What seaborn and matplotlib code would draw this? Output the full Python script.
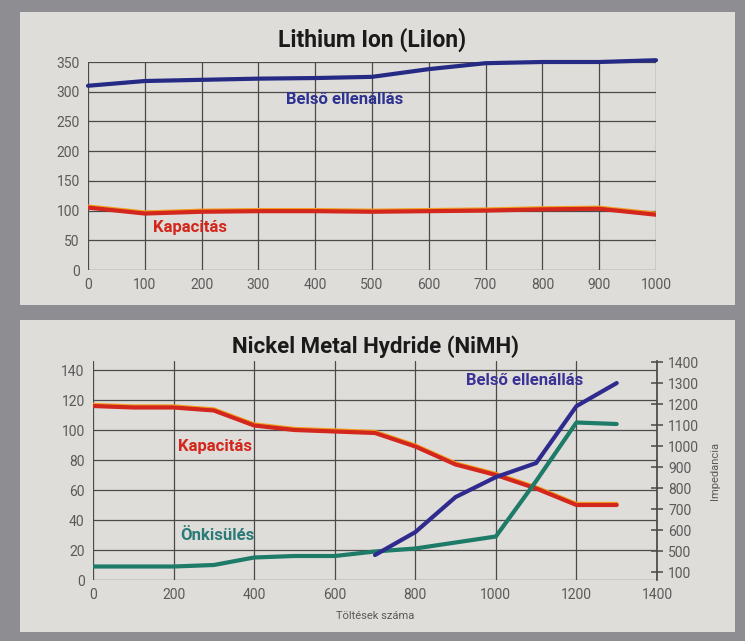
import matplotlib
matplotlib.use('Agg')
import matplotlib.pyplot as plt
import matplotlib.patheffects as pe
from matplotlib.patches import Rectangle
import seaborn as sns
import pandas as pd

# Lithium Ion data
li_x = [0, 100, 200, 300, 400, 500, 600, 700, 800, 900, 1000]
li_ellenallas = [310, 318, 320, 322, 323, 325, 338, 348, 350, 350, 353]
li_kapacitas = [105, 95, 98, 99, 99, 98, 99, 100, 102, 103, 93]

# NiMH data
ni_x = [0, 100, 200, 300, 400, 500, 600, 700, 800, 900, 1000, 1100, 1200, 1300]
ni_kapacitas = [116, 115, 115, 113, 103, 100, 99, 98, 89, 77, 70, 61, 50, 50]
ni_onkisules = [9, 9, 9, 10, 15, 16, 16, 19, 21, 25, 29, 66, 105, 104]
ni_ell_x = [700, 800, 900, 1000, 1100, 1200, 1300]
ni_ellenallas = [481, 590, 757, 852, 919, 1190, 1300]  # impedance, right axis

right_ticks = [400, 500, 600, 700, 800, 900, 1000, 1100, 1200, 1300, 1400]
right_labels = ['100', '500', '600', '700', '800', '900', '1000', '1100', '1200', '1300', '1400']

sns.set_theme(style='whitegrid')
plt.rcParams['font.family'] = ['Roboto', 'DejaVu Sans']

BLUE = '#252a84'
RED = '#d3261c'
ORANGE = '#f0a020'
GREEN = '#1d7b68'
GRID = '#4a4a4a'
TXT = '#5a5a5a'
PANEL = '#dfddd9'

fig = plt.figure(figsize=(7.45, 6.41), dpi=100, facecolor='#8e8e92')
fig.patches.append(Rectangle((20/745, 1-305/641), 715/745, 293/641, transform=fig.transFigure,
                             facecolor=PANEL, edgecolor='none', zorder=-10))
fig.patches.append(Rectangle((20/745, 1-632/641), 715/745, 312/641, transform=fig.transFigure,
                             facecolor=PANEL, edgecolor='none', zorder=-10))

red_fx = [pe.Stroke(linewidth=2.6, foreground=ORANGE, offset=(0, 1.0)), pe.Normal()]


def style_axes(ax):
    ax.set_facecolor(PANEL)
    ax.grid(True, color=GRID, linewidth=0.9)
    for s in ax.spines.values():
        s.set_visible(False)
    ax.tick_params(colors=TXT, labelsize=10, length=0, pad=6)
    ax.set_xlabel('')
    ax.set_ylabel('')


# ---- Lithium Ion ----
ax1 = fig.add_axes([88/745, 1-270/641, (656-88)/745, 208/641])
df_li = pd.DataFrame({'x': li_x, 'ell': li_ellenallas, 'kap': li_kapacitas})
sns.lineplot(data=df_li, x='x', y='ell', ax=ax1, color=BLUE, linewidth=3, clip_on=False)
sns.lineplot(data=df_li, x='x', y='kap', ax=ax1, color=RED, linewidth=3, path_effects=red_fx)
ax1.set_xlim(0, 1000)
ax1.set_ylim(0, 350)
ax1.set_xticks(range(0, 1001, 100))
ax1.set_yticks(range(0, 351, 50))
style_axes(ax1)
ax1.set_title('Lithium Ion (LiIon)', fontsize=16.5, fontweight='bold', color='#1a1a1a', pad=11)
ax1.text(452, 287, 'Belső ellenállás', color='#2e3290', fontsize=12, fontweight='bold',
         ha='center', va='center')
ax1.text(180, 71, 'Kapacitás', color=RED, fontsize=12, fontweight='bold',
         ha='center', va='center')

# ---- NiMH ----
ax2 = fig.add_axes([93/745, 1-580/641, (657-93)/745, 219/641])
df_ni = pd.DataFrame({'x': ni_x, 'kap': ni_kapacitas, 'onk': ni_onkisules})
sns.lineplot(data=df_ni, x='x', y='kap', ax=ax2, color=RED, linewidth=3, path_effects=red_fx)
sns.lineplot(data=df_ni, x='x', y='onk', ax=ax2, color=GREEN, linewidth=3)
ax2.set_xlim(0, 1400)
ax2.set_ylim(0, 146)
ax2.set_xticks(range(0, 1401, 200))
ax2.set_yticks(range(0, 141, 20))
style_axes(ax2)
ax2.set_xlabel('Töltések száma', fontsize=8, color=TXT, labelpad=6)
ax2.set_title('Nickel Metal Hydride (NiMH)', fontsize=16, fontweight='bold', color='#1a1a1a', pad=6)

ax3 = ax2.twinx()
df_ell = pd.DataFrame({'x': ni_ell_x, 'ell': ni_ellenallas})
sns.lineplot(data=df_ell, x='x', y='ell', ax=ax3, color='#2f2a8e', linewidth=3)
ax3.set_ylim(362, 1405)
ax3.set_yticks(right_ticks)
ax3.set_yticklabels(right_labels)
ax3.grid(False)
for s in ax3.spines.values():
    s.set_visible(False)
ax3.spines['right'].set_visible(True)
ax3.spines['right'].set_color(GRID)
ax3.tick_params(axis='y', colors=TXT, labelsize=10, length=8, direction='inout', pad=4)
ax3.set_ylabel('Impedancia', fontsize=8, color=TXT, labelpad=8)

ax2.text(1072, 133, 'Belső ellenállás', color='#3a3296', fontsize=12, fontweight='bold',
         ha='center', va='center')
ax2.text(303, 89, 'Kapacitás', color=RED, fontsize=12, fontweight='bold',
         ha='center', va='center')
ax2.text(308, 30, 'Önkisülés', color='#2a7a78', fontsize=12, fontweight='bold',
         ha='center', va='center')

fig.savefig('out.png', dpi=100, facecolor=fig.get_facecolor())
